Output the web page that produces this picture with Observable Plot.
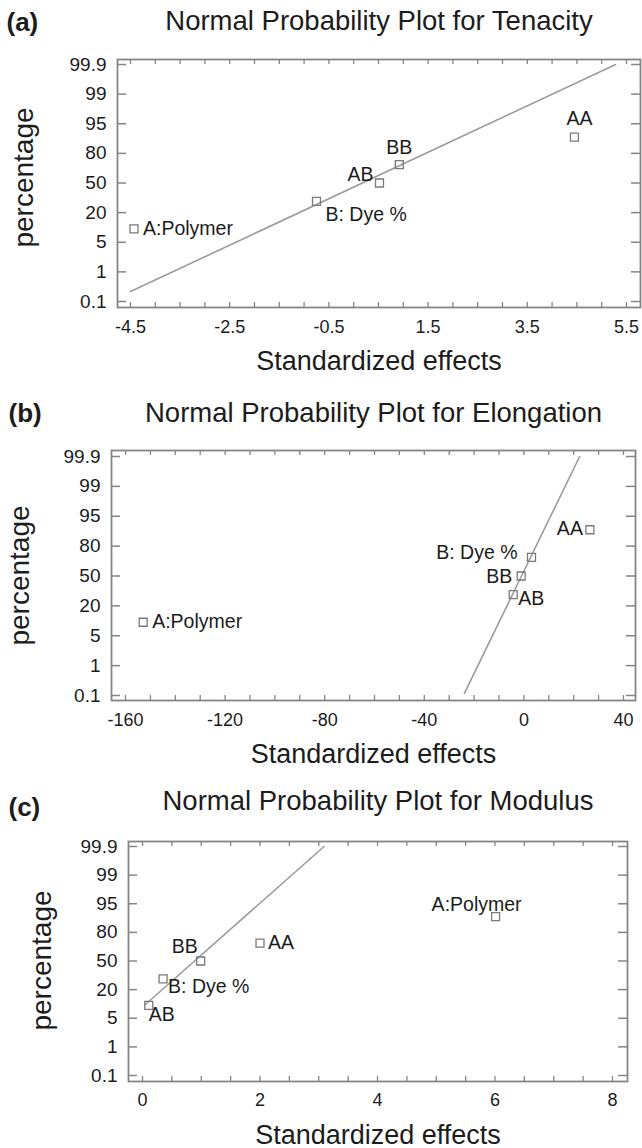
<!DOCTYPE html>
<html><head><meta charset="utf-8">
<script src="https://cdn.jsdelivr.net/npm/d3@7"></script>
<script src="https://cdn.jsdelivr.net/npm/@observablehq/plot@0.6"></script>
<style>
html,body{margin:0;padding:0;background:#fff;}
#page{position:relative;width:642px;height:1148px;overflow:hidden;background:#fff;}
#page svg{position:absolute;left:0;}
</style></head><body><div id="page"></div>
<script>
// ---------- data ----------
const percentTicks = [0.1, 1, 5, 20, 50, 80, 95, 99, 99.9];
const percentTickLabels = ["0.1", "1", "5", "20", "50", "80", "95", "99", "99.9"];

// (a) Tenacity
const tenacityTerms  = ["A:Polymer", "B: Dye %", "AB", "BB", "AA"];
const tenacityEffect = [-4.43, -0.75, 0.52, 0.92, 4.45];
const tenacityPct    = [10, 30, 50, 70, 90];
const tenacityLineEffect = [-4.5, 5.28];
const tenacityLinePct    = [0.23, 99.9];
const tenacityXTicks = [-4.5, -2.5, -0.5, 1.5, 3.5, 5.5];
const tenacityXMinor = d3.range(-4.5, 5.51, 0.5);

// (b) Elongation
const elongationTerms  = ["A:Polymer", "AB", "BB", "B: Dye %", "AA"];
const elongationEffect = [-152.9, -4.3, -1.1, 3.05, 26.5];
const elongationPct    = [10, 30, 50, 70, 90];
const elongationLineEffect = [-23.9, 22.4];
const elongationLinePct    = [0.12, 99.9];
const elongationXTicks = [-160, -120, -80, -40, 0, 40];
const elongationXMinor = d3.range(-160, 40.1, 10);

// (c) Modulus
const modulusTerms  = ["AB", "B: Dye %", "BB", "AA", "A:Polymer"];
const modulusEffect = [0.107, 0.35, 0.99, 2.0, 6.01];
const modulusPct    = [10, 30, 50, 70, 90];
const modulusLineEffect = [0.05, 3.09];
const modulusLinePct    = [10.4, 99.9];
const modulusXTicks = [0, 2, 4, 6, 8];
const modulusXMinor = d3.range(0, 8.01, 0.5);

// ---------- normal probability scale ----------
function probit(p) {
  const a=[-3.969683028665376e+01,2.209460984245205e+02,-2.759285104469687e+02,1.383577518672690e+02,-3.066479806614716e+01,2.506628277459239e+00];
  const b=[-5.447609879822406e+01,1.615858368580409e+02,-1.556989798598866e+02,6.680131188771972e+01,-1.328068155288572e+01];
  const c=[-7.784894002430293e-03,-3.223964580411365e-01,-2.400758277161838e+00,-2.549732539343734e+00,4.374664141464968e+00,2.938163982698783e+00];
  const d=[7.784695709041462e-03,3.224671290700398e-01,2.445134137142996e+00,3.754408661907416e+00];
  const pl = 0.02425, ph = 1 - pl;
  let q, r;
  if (p < pl) { q = Math.sqrt(-2*Math.log(p)); return (((((c[0]*q+c[1])*q+c[2])*q+c[3])*q+c[4])*q+c[5])/((((d[0]*q+d[1])*q+d[2])*q+d[3])*q+1); }
  if (p > ph) { q = Math.sqrt(-2*Math.log(1-p)); return -(((((c[0]*q+c[1])*q+c[2])*q+c[3])*q+c[4])*q+c[5])/((((d[0]*q+d[1])*q+d[2])*q+d[3])*q+1); }
  q = p - 0.5; r = q*q;
  return (((((a[0]*r+a[1])*r+a[2])*r+a[3])*r+a[4])*r+a[5])*q/(((((b[0]*r+b[1])*r+b[2])*r+b[3])*r+b[4])*r+1);
}
const tickZ = percentTicks.map(t => probit(t / 100));
function pos(p) {
  const z = probit(p / 100);
  let i = 0;
  while (i < tickZ.length - 2 && z > tickZ[i + 1]) i++;
  return i + (z - tickZ[i]) / (tickZ[i + 1] - tickZ[i]);
}
const tickIdx = d3.range(percentTicks.length);

// ---------- layout ----------
const FONT = "'Liberation Sans', Arial, Helvetica, sans-serif";
const INK = "#1c1c1c";
const GREY = "#858585";

const panels = [
  {tag: "(a)", title: "Normal Probability Plot for Tenacity",
   terms: tenacityTerms, effect: tenacityEffect, pct: tenacityPct,
   lineX: tenacityLineEffect, lineP: tenacityLinePct, xTicks: tenacityXTicks, xMinor: tenacityXMinor,
   xDomain: [-4.5, 5.5], layout: {top: 0, height: 385, ml: 117, mr: 2, mt: 59, mb: 78,
     xRange: [130, 626], yRange: [301, 64], titleDy: -30, tagDx: -111, tagDy: -29, yLabDx: -93, yLabDy: -6, xLabDy: 20},
   place: {"A:Polymer": [9, 0, "start"], "B: Dye %": [9, 13, "start"], "AB": [-6, -8, "end"], "BB": [0, -17, "middle"], "AA": [5, -18, "middle"]}},
  {tag: "(b)", title: "Normal Probability Plot for Elongation",
   terms: elongationTerms, effect: elongationEffect, pct: elongationPct,
   lineX: elongationLineEffect, lineP: elongationLinePct, xTicks: elongationXTicks, xMinor: elongationXMinor,
   xDomain: [-160, 40], layout: {top: 380, height: 400, ml: 111, mr: 7, mt: 70, mb: 80,
     xRange: [125, 623], yRange: [315, 76], titleDy: -29, tagDx: -103, tagDy: -29, yLabDx: -91.5, yLabDy: 0, xLabDy: 20},
   place: {"A:Polymer": [9, 0, "start"], "AB": [5, 4, "start"], "BB": [-9, 1, "end"], "B: Dye %": [-14, -5, "end"], "AA": [-7, -1, "end"]}},
  {tag: "(c)", title: "Normal Probability Plot for Modulus",
   terms: modulusTerms, effect: modulusEffect, pct: modulusPct,
   lineX: modulusLineEffect, lineP: modulusLinePct, xTicks: modulusXTicks, xMinor: modulusXMinor,
   xDomain: [0, 8], layout: {top: 780, height: 368, ml: 128, mr: 15, mt: 61, mb: 67,
     xRange: [142, 612], yRange: [295, 66], titleDy: -32, tagDx: -120, tagDy: -26, yLabDx: -86, yLabDy: -1, xLabDy: 19},
   place: {"AB": [0, 9, "start"], "B: Dye %": [5, 8, "start"], "BB": [-3, -14, "end"], "AA": [8, 0, "start"], "A:Polymer": [-19, -12, "middle"]}}
];

function drawPanel(cfg) {
  const L = cfg.layout;
  const W = 642;
  const fw = W - L.ml - L.mr;
  const fh = L.height - L.mt - L.mb;
  const idx = d3.range(cfg.terms.length);
  const lineIdx = d3.range(cfg.lineX.length);
  const labels = idx.map(i => {
    const [dx, dy, anchor] = cfg.place[cfg.terms[i]];
    return Plot.text([i], {x: j => cfg.effect[j], y: j => pos(cfg.pct[j]), text: j => cfg.terms[j],
      dx, dy, textAnchor: anchor, lineAnchor: "middle", fontSize: 19.5, fill: INK, fontFamily: FONT});
  });
  const svg = Plot.plot({
    width: W, height: L.height,
    marginLeft: L.ml, marginRight: L.mr, marginTop: L.mt, marginBottom: L.mb,
    style: {fontFamily: FONT, background: "white", overflow: "visible"},
    x: {domain: cfg.xDomain, range: L.xRange, axis: null},
    y: {domain: [0, 8], range: L.yRange, axis: null},
    marks: [
      Plot.tickX(cfg.xMinor, {x: d => d, stroke: GREY, strokeWidth: 1.3, insetTop: fh - 5}),
      Plot.tickX(cfg.xMinor, {x: d => d, stroke: GREY, strokeWidth: 1.3, insetBottom: fh - 5}),
      Plot.tickY(tickIdx, {y: d => d, stroke: GREY, strokeWidth: 1.5, insetRight: fw - 9}),
      Plot.tickY(tickIdx, {y: d => d, stroke: GREY, strokeWidth: 1.5, insetLeft: fw - 9}),
      Plot.frame({stroke: GREY, strokeWidth: 1.8}),
      Plot.line(lineIdx, {x: i => cfg.lineX[i], y: i => pos(cfg.lineP[i]), stroke: "#9c9c9c", strokeWidth: 1.6}),
      Plot.dot(idx, {x: i => cfg.effect[i], y: i => pos(cfg.pct[i]), symbol: "square", r: 4.5,
        stroke: "#7a7a7a", strokeWidth: 1.3, fill: "none"}),
      ...labels,
      Plot.text(cfg.xTicks, {x: d => d, frameAnchor: "bottom", dy: L.xLabDy, text: d => String(d),
        lineAnchor: "middle", fontSize: 18, fill: INK, fontFamily: FONT}),
      Plot.text(tickIdx, {y: d => d, frameAnchor: "left", dx: -11, text: i => percentTickLabels[i],
        textAnchor: "end", lineAnchor: "middle", fontSize: 19, fill: INK, fontFamily: FONT}),
      Plot.text([cfg.title], {frameAnchor: "top", dy: L.titleDy, text: d => d, lineAnchor: "bottom",
        textAnchor: "middle", fontSize: 27.5, fill: INK, fontFamily: FONT}),
      Plot.text([cfg.tag], {frameAnchor: "top-left", dx: L.tagDx, dy: L.tagDy, text: d => d, lineAnchor: "bottom",
        textAnchor: "start", fontSize: 26, fontWeight: "bold", fill: INK, fontFamily: FONT}),
      Plot.text(["Standardized effects"], {frameAnchor: "bottom", dy: 62, text: d => d, lineAnchor: "bottom",
        textAnchor: "middle", fontSize: 27, fill: INK, fontFamily: FONT}),
      Plot.text(["percentage"], {frameAnchor: "left", dx: L.yLabDx, dy: L.yLabDy, text: d => d, rotate: -90,
        lineAnchor: "middle", textAnchor: "middle", fontSize: 28, fill: INK, fontFamily: FONT})
    ]
  });
  svg.style.top = L.top + "px";
  document.getElementById("page").appendChild(svg);
}
panels.forEach(drawPanel);
</script>
</body></html>
